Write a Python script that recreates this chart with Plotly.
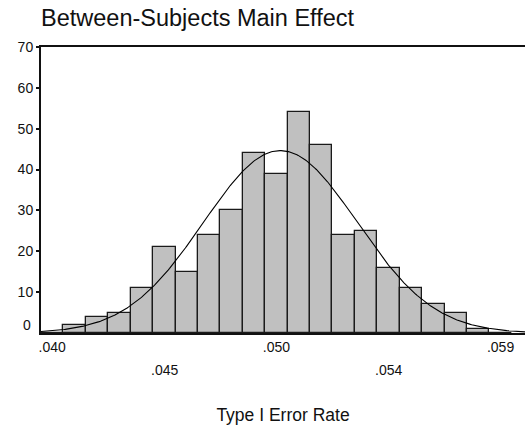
import numpy as np
import plotly.graph_objects as go

# ---- data ----
bin_centers = [0.04000, 0.04095, 0.04190, 0.04285, 0.04380, 0.04475, 0.04570,
               0.04665, 0.04760, 0.04855, 0.04950, 0.05045, 0.05140, 0.05235,
               0.05330, 0.05425, 0.05520, 0.05615, 0.05710, 0.05805, 0.05900]
counts = [0, 2, 4, 5, 11, 21, 15, 24, 30, 44, 39, 54, 46, 24, 25, 16, 11, 7, 5, 1, 0]
bin_width = 0.00095

# fitted normal curve parameters
curve_mean = 0.04967
curve_sd = 0.00326

x_upper_tick_vals = [0.04000, 0.04950, 0.05900]
x_upper_tick_text = [".040", ".050", ".059"]
x_lower_tick_vals = [0.04475, 0.05425]
x_lower_tick_text = [".045", ".054"]
y_tick_vals = [0, 10, 20, 30, 40, 50, 60, 70]

title_text = "Between-Subjects Main Effect"
x_title = "Type I Error Rate"

FONT = "Arial, Liberation Sans, sans-serif"

x_lo = bin_centers[0] - bin_width / 2
x_hi = 0.060036

n_total = sum(counts)
xs = np.linspace(x_lo, x_hi, 400)
ys = n_total * bin_width / (curve_sd * np.sqrt(2 * np.pi)) * np.exp(-0.5 * ((xs - curve_mean) / curve_sd) ** 2)

fig = go.Figure()
fig.add_trace(go.Bar(
    x=bin_centers, y=counts, width=bin_width,
    marker=dict(color="#c0c0c0", line=dict(color="#1a1a1a", width=1.3)),
    hoverinfo="x+y",
))
fig.add_trace(go.Scatter(
    x=xs, y=ys, mode="lines",
    line=dict(color="#000000", width=1.1),
    hoverinfo="skip",
))

annotations = []
for v, t in zip(x_lower_tick_vals, x_lower_tick_text):
    annotations.append(dict(
        x=v, y=0, xref="x", yref="paper", text=t, showarrow=False,
        xanchor="center", yanchor="middle", yshift=-37,
        font=dict(family=FONT, size=14, color="#111111"),
    ))
# zero label of the y axis sits slightly above the baseline
annotations.append(dict(
    x=0, y=y_tick_vals[0], xref="paper", yref="y", text=str(y_tick_vals[0]),
    showarrow=False, xanchor="right", yanchor="middle", xshift=-8, yshift=8,
    font=dict(family=FONT, size=14, color="#111111"),
))

fig.update_layout(
    width=525, height=429,
    margin=dict(l=41, r=0, t=47, b=96),
    paper_bgcolor="white", plot_bgcolor="white",
    showlegend=False,
    bargap=0,
    title=dict(
        text=title_text, xref="container", yref="container",
        x=41 / 525, xanchor="left", y=1 - 18 / 429, yanchor="middle",
        font=dict(family=FONT, size=23.5, color="#111111"),
    ),
    xaxis=dict(
        range=[x_lo, x_hi],
        tickmode="array", tickvals=x_upper_tick_vals, ticktext=x_upper_tick_text,
        ticks="", showgrid=False, zeroline=False, ticklabeloverflow="allow",
        showline=True, linecolor="#111111", linewidth=2, mirror=True,
        tickfont=dict(family=FONT, size=14, color="#111111"),
        title=dict(text=x_title, font=dict(family=FONT, size=17.5, color="#111111"), standoff=55),
    ),
    yaxis=dict(
        range=[0, 70],
        tickmode="array", tickvals=y_tick_vals[1:], ticktext=[str(v) for v in y_tick_vals[1:]],
        ticks="outside", ticklen=3, tickwidth=2, tickcolor="#111111",
        showgrid=False, zeroline=False,
        showline=True, linecolor="#111111", linewidth=2, mirror=False,
        tickfont=dict(family=FONT, size=14, color="#111111"),
    ),
    annotations=annotations,
)

fig.write_html(
    "out.html",
    config={"displayModeBar": False},
    post_script="document.body.style.margin='0';document.body.style.overflow='hidden';",
)
